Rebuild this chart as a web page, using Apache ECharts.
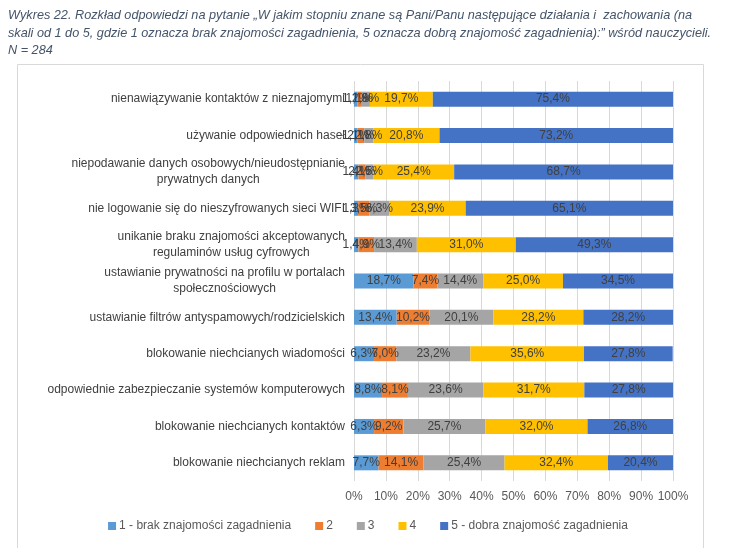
<!DOCTYPE html>
<html><head><meta charset="utf-8">
<script src="https://cdn.jsdelivr.net/npm/echarts@6/dist/echarts.min.js"></script>
<style>html,body{margin:0;padding:0;background:#fff}#c{width:736px;height:548px}</style>
</head><body><div id="c"></div>
<script>
const categories = [
  "nienawiązywanie kontaktów z nieznajomymi",
  "używanie odpowiednich haseł",
  "niepodawanie danych osobowych/nieudostępnianie\nprywatnych danych",
  "nie logowanie się do nieszyfrowanych sieci WIFI",
  "unikanie braku znajomości akceptowanych\nregulaminów usług cyfrowych",
  "ustawianie prywatności na profilu w portalach\nspołecznościowych",
  "ustawianie filtrów antyspamowych/rodzicielskich",
  "blokowanie niechcianych wiadomości",
  "odpowiednie zabezpieczanie systemów komputerowych",
  "blokowanie niechcianych kontaktów",
  "blokowanie niechcianych reklam"
];
const seriesNames = ["1 - brak znajomości zagadnienia", "2", "3", "4", "5 - dobra znajomość zagadnienia"];
const s1 = [1.1, 1.1, 1.4, 1.3, 1.4, 18.7, 13.4, 6.3, 8.8, 6.3, 7.7];
const s2 = [1.1, 2.1, 2.1, 3.5, 4.9, 7.4, 10.2, 7.0, 8.1, 9.2, 14.1];
const s3 = [2.8, 2.8, 2.5, 6.3, 13.4, 14.4, 20.1, 23.2, 23.6, 25.7, 25.4];
const s4 = [19.7, 20.8, 25.4, 23.9, 31.0, 25.0, 28.2, 35.6, 31.7, 32.0, 32.4];
const s5 = [75.4, 73.2, 68.7, 65.1, 49.3, 34.5, 28.2, 27.8, 27.8, 26.8, 20.4];
const xTicks = [0, 10, 20, 30, 40, 50, 60, 70, 80, 90, 100];
const colors = ["#5B9BD5", "#ED7D31", "#A5A5A5", "#FFC000", "#4472C4"];
const titleText = "Wykres 22. Rozkład odpowiedzi na pytanie „W jakim stopniu znane są Pani/Panu następujące działania i  zachowania (na\nskali od 1 do 5, gdzie 1 oznacza brak znajomości zagadnienia, 5 oznacza dobrą znajomość zagadnienia):” wśród nauczycieli.\nN = 284";

const FONT = "Liberation Sans";
const fmt = v => v.toFixed(1).replace('.', ',') + '%';
const allData = [s1, s2, s3, s4, s5];

const chart = echarts.init(document.getElementById('c'));
chart.setOption({
  animation: false,
  textStyle: { fontFamily: FONT },
  title: {
    text: titleText, left: 3, top: 2,
    textStyle: { fontFamily: FONT, fontSize: 12.7, fontStyle: 'italic', fontWeight: 'normal', color: '#44546A', lineHeight: 17.5 }
  },
  graphic: [{
    type: 'rect', shape: { x: 17.5, y: 64.5, width: 686, height: 500 },
    style: { fill: 'none', stroke: '#D9D9D9', lineWidth: 1 }, silent: true, z: -10
  }],
  legend: {
    bottom: 11, left: 'center', itemWidth: 8, itemHeight: 8, itemGap: 24,
    icon: 'rect',
    textStyle: { fontFamily: FONT, fontSize: 12, color: '#595959', padding: [0, 0, 0, -2] },
    data: seriesNames
  },
  grid: { left: 354, right: 63, top: 81, height: 400, containLabel: false },
  xAxis: {
    type: 'value', min: 0, max: 100, interval: 10,
    axisLine: { show: false }, axisTick: { show: false },
    splitLine: { lineStyle: { color: '#D9D9D9' } },
    axisLabel: { fontSize: 12, color: '#595959', margin: 10, formatter: v => v + '%' }
  },
  yAxis: {
    type: 'category', inverse: true, data: categories,
    axisLine: { show: false }, axisTick: { show: false },
    axisLabel: {
      fontSize: 12, color: '#404040', margin: 9,
      formatter: v => v.split('\n').map(l => '{c|' + l + '}').join('\n'),
      rich: { c: { align: 'center', fontSize: 12, color: '#404040', lineHeight: 16, fontFamily: FONT } }
    }
  },
  series: allData.map((d, i) => ({
    name: seriesNames[i], type: 'bar', stack: 'a', data: d, barWidth: 15,
    itemStyle: { color: colors[i] },
    label: { show: true, position: 'inside', color: '#404040', fontSize: 12, fontFamily: FONT,
      formatter: p => fmt(p.value) }
  }))
});
</script></body></html>
